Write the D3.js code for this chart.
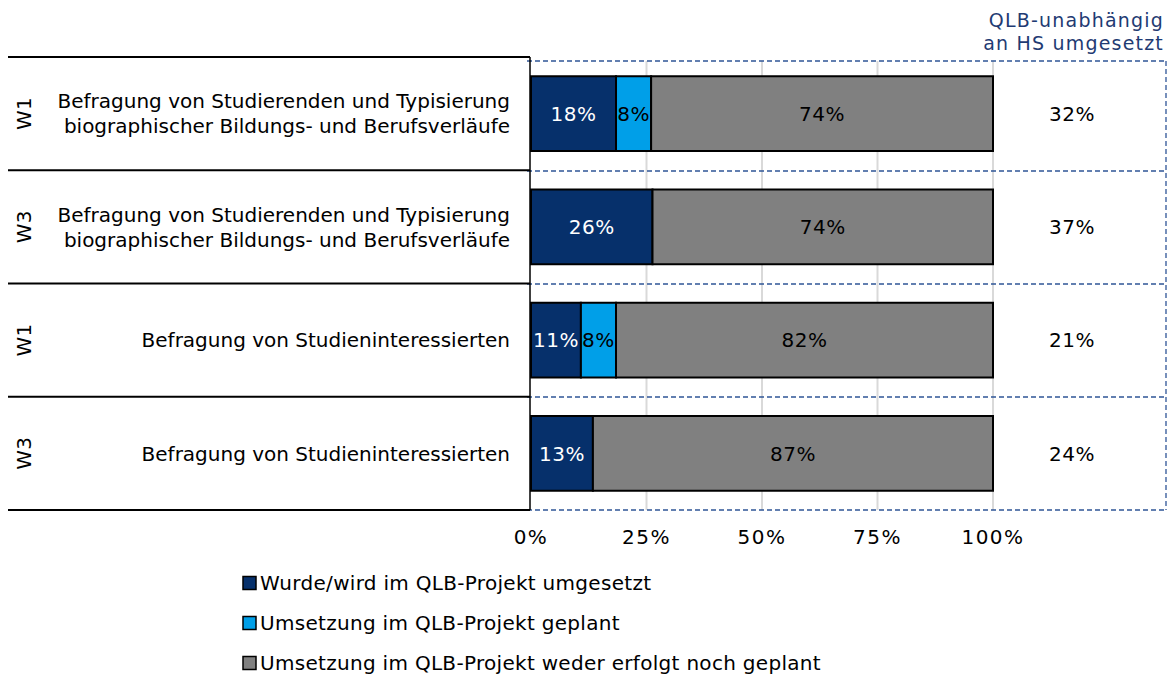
<!DOCTYPE html>
<html>
<head>
<meta charset="utf-8">
<script src="https://cdn.jsdelivr.net/npm/d3@7"></script>
<style>
  body { margin: 0; background: #fff; }
  svg text { font-family: "DejaVu Sans", Verdana, sans-serif; }
</style>
</head>
<body>
<svg width="1171" height="677"></svg>
<script>
// data
var waves = ["W1", "W3", "W1", "W3"];
var labels = [
  ["Befragung von Studierenden und Typisierung", "biographischer Bildungs- und Berufsverläufe"],
  ["Befragung von Studierenden und Typisierung", "biographischer Bildungs- und Berufsverläufe"],
  ["Befragung von Studieninteressierten"],
  ["Befragung von Studieninteressierten"]
];
var umgesetzt = [18.4, 26.3, 10.8, 13.4];
var geplant   = [7.6, 0, 7.6, 0];
var weder     = [74.0, 73.7, 81.6, 86.6];
var unabhaengig = [32, 37, 21, 24];
var seriesNames = ["Wurde/wird im QLB-Projekt umgesetzt", "Umsetzung im QLB-Projekt geplant", "Umsetzung im QLB-Projekt weder erfolgt noch geplant"];
var xTicks = [0, 25, 50, 75, 100];

var colors = ["#06306b", "#009fe8", "#808080"];
var textColors = ["#fff", "#000", "#000"];

var svg = d3.select("svg");

var rows = d3.range(waves.length);
var table = rows.map(function(i) {
  return {i: i, s0: umgesetzt[i], s1: geplant[i], s2: weder[i]};
});
var keys = ["s0", "s1", "s2"];

var x = d3.scaleLinear().domain([0, 100]).range([531, 993]);
var y = d3.scaleBand().domain(rows).range([57, 510]).paddingInner(0).paddingOuter(0);
var barPad = 0.17;

// gridlines
svg.append("g")
  .selectAll("line")
  .data(xTicks.slice(1))
  .enter().append("line")
  .attr("x1", function(d) { return x(d); })
  .attr("x2", function(d) { return x(d); })
  .attr("y1", 61).attr("y2", 510)
  .attr("stroke", "#d9d9d9").attr("stroke-width", 2);

// dashed boxes on the right
var dash = svg.append("g").attr("stroke", "#2f5597").attr("stroke-width", 1.3).attr("stroke-dasharray", "5,3").attr("fill", "none");
dash.selectAll("line.h")
  .data([61, 171, 284, 397, 510])
  .enter().append("line")
  .attr("class", "h")
  .attr("x1", 527).attr("x2", 1166)
  .attr("y1", function(d) { return d; }).attr("y2", function(d) { return d; });
dash.append("line").attr("x1", 1166).attr("x2", 1166).attr("y1", 61).attr("y2", 510);

// left table lines
var tbl = svg.append("g").attr("stroke", "#000");
tbl.selectAll("line.h")
  .data(y.domain().concat([null]))
  .enter().append("line")
  .attr("x1", 8).attr("x2", 530)
  .attr("y1", function(d) { return d === null ? y.range()[1] : y(d); })
  .attr("y2", function(d) { return d === null ? y.range()[1] : y(d); })
  .attr("stroke-width", 2);
tbl.append("line").attr("x1", 530).attr("x2", 530).attr("y1", 57).attr("y2", 510).attr("stroke-width", 1.5);

// stacked bars
var stack = d3.stack().keys(keys)(table);
var layer = svg.append("g").selectAll("g")
  .data(stack)
  .enter().append("g")
  .attr("fill", function(d, k) { return colors[k]; });

layer.selectAll("rect")
  .data(function(d) { return d.filter(function(p) { return p[1] - p[0] > 0; }); })
  .enter().append("rect")
  .attr("x", function(d) { return x(d[0]); })
  .attr("width", function(d) { return x(d[1]) - x(d[0]); })
  .attr("y", function(d) { return y(d.data.i) + y.bandwidth() * barPad; })
  .attr("height", y.bandwidth() * (1 - 2 * barPad))
  .attr("stroke", "#000").attr("stroke-width", 2);

layer.selectAll("text")
  .data(function(d) { return d.filter(function(p) { return p[1] - p[0] > 0; }); })
  .enter().append("text")
  .attr("x", function(d) { return (x(d[0]) + x(d[1])) / 2; })
  .attr("y", function(d) { return y(d.data.i) + y.bandwidth() / 2; })
  .attr("dy", "0.36em")
  .attr("text-anchor", "middle")
  .attr("font-size", 20)
  .attr("letter-spacing", 0.5)
  .attr("fill", function() { return textColors[keys.indexOf(d3.select(this.parentNode).datum().key)]; })
  .text(function(d) { return Math.round(d[1] - d[0]) + "%"; });

// right column values
svg.append("g").selectAll("text")
  .data(rows)
  .enter().append("text")
  .attr("x", 1072)
  .attr("y", function(i) { return y(i) + y.bandwidth() / 2; })
  .attr("dy", "0.36em")
  .attr("text-anchor", "middle")
  .attr("font-size", 20)
  .attr("letter-spacing", 0.5)
  .text(function(i) { return unabhaengig[i] + "%"; });

// header
svg.append("text")
  .attr("x", 1164).attr("y", 20)
  .attr("dy", "0.36em")
  .attr("text-anchor", "end")
  .attr("font-size", 19).attr("letter-spacing", 1.2)
  .attr("fill", "#1f3b73")
  .selectAll("tspan")
  .data(["QLB-unabhängig", "an HS umgesetzt"])
  .enter().append("tspan")
  .attr("x", 1164)
  .attr("dy", function(d, i) { return i ? 23 : "0.36em"; })
  .text(function(d) { return d; });

// wave labels
svg.append("g").selectAll("text")
  .data(rows)
  .enter().append("text")
  .attr("transform", function(i) { return "translate(24," + (y(i) + y.bandwidth() / 2) + ") rotate(-90)"; })
  .attr("dy", "0.36em")
  .attr("text-anchor", "middle")
  .attr("font-size", 20)
  .text(function(i) { return waves[i]; });

// category labels
var cat = svg.append("g").selectAll("text")
  .data(rows)
  .enter().append("text")
  .attr("text-anchor", "end")
  .attr("font-size", 20)
  .attr("y", function(i) { return y(i) + y.bandwidth() / 2 - (labels[i].length - 1) * 12.5; });
cat.selectAll("tspan")
  .data(function(i) { return labels[i]; })
  .enter().append("tspan")
  .attr("x", 510)
  .attr("dy", function(d, k) { return k ? 25 : "0.36em"; })
  .text(function(d) { return d; });

// x axis labels
svg.append("g").selectAll("text")
  .data(xTicks)
  .enter().append("text")
  .attr("x", function(d) { return x(d); })
  .attr("y", 537)
  .attr("dy", "0.36em")
  .attr("text-anchor", "middle")
  .attr("font-size", 20)
  .attr("letter-spacing", 1.5)
  .text(function(d) { return d + "%"; });

// legend
var legend = svg.append("g").selectAll("g")
  .data(seriesNames)
  .enter().append("g")
  .attr("transform", function(d, k) { return "translate(243," + (583 + k * 40) + ")"; });
legend.append("rect")
  .attr("x", 0).attr("y", -6.5)
  .attr("width", 13).attr("height", 13)
  .attr("fill", function(d, k) { return colors[k]; })
  .attr("stroke", "#000").attr("stroke-width", 1.5);
legend.append("text")
  .attr("x", 17)
  .attr("dy", "0.36em")
  .attr("font-size", 20)
  .attr("letter-spacing", 0.3)
  .text(function(d) { return d; });
</script>
</body>
</html>
